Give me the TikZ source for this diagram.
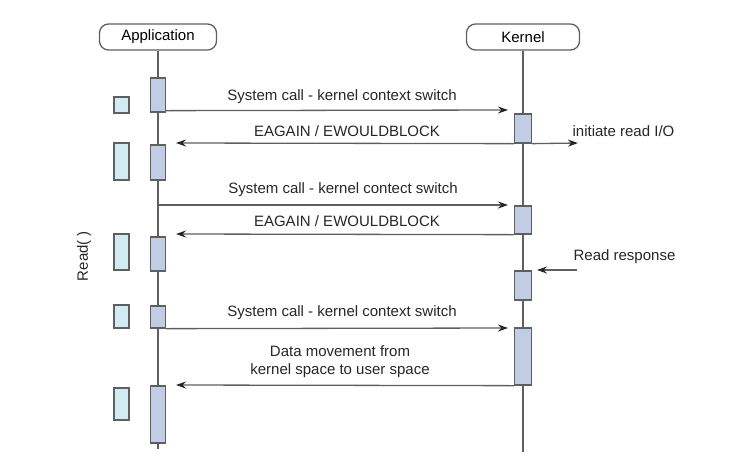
\documentclass[tikz,border=0pt]{standalone}
\usepackage{fontspec}
\setmainfont{Liberation Sans}
\usetikzlibrary{arrows.meta}
\definecolor{actfill}{RGB}{193,205,229}
\definecolor{buffill}{RGB}{208,236,242}
\definecolor{linegray}{RGB}{95,95,95}

\begin{document}
\begin{tikzpicture}[x=1pt,y=-1pt,line width=1.3pt,
actor/.style={draw=linegray,rounded corners=9pt,minimum width=117pt,minimum height=26pt,inner sep=0pt,font=\fontsize{15}{18}\selectfont},
act/.style={draw=linegray,fill=actfill,minimum width=15pt,inner sep=0pt},
kact/.style={act,minimum width=17pt},
buf/.style={draw=linegray,fill=buffill,minimum width=15pt,inner sep=0pt},
msg/.style={draw=linegray,-{Stealth[length=10pt,width=7pt,color=black!85]}},
lbl/.style={font=\fontsize{15}{18}\selectfont,text=black!85,inner sep=0pt}
]
\useasboundingbox (0,0) rectangle (742,467);

% actors and lifelines
\node[actor] (app) at (158,37) {Application};
\node[actor,minimum width=113pt] (kern) at (523,37) {Kernel};
\coordinate (append) at (158,449);
\coordinate (kernend) at (523,452);
\draw[linegray] (app) -- (append);
\draw[linegray] (kern) -- (kernend);

% application activations
\node[act,minimum height=34pt] (a1) at (158,95) {};
\node[act,minimum height=35pt] (a2) at (158,162.5) {};
\node[act,minimum height=34pt] (a3) at (158,254) {};
\node[act,minimum height=22pt] (a4) at (158,317) {};
\node[act,minimum height=57pt] (a5) at (158,414.5) {};

% user buffers
\node[buf,minimum height=16pt] (b1) at (121.5,105) {};
\node[buf,minimum height=37pt] (b2) at (121.5,161.5) {};
\node[buf,minimum height=36pt] (b3) at (121.5,252) {};
\node[buf,minimum height=23pt] (b4) at (121.5,316.5) {};
\node[buf,minimum height=32pt] (b5) at (121.5,404) {};

% kernel activations
\node[kact,minimum height=29pt] (k1) at (523,128.5) {};
\node[kact,minimum height=28pt] (k2) at (523,220) {};
\node[kact,minimum height=29pt] (k3) at (523,285.5) {};
\node[kact,minimum height=57pt] (k4) at (523,356.5) {};

% free ends
\coordinate (s1) at (508,110);
\coordinate (r1) at (176,143);
\coordinate (io) at (578,143);
\coordinate (s2from) at (158,205);
\coordinate (s2) at (508,205);
\coordinate (r2) at (176,234);
\coordinate (rrfrom) at (577,270);
\coordinate (rr) at (537,270);
\coordinate (s3) at (508,328);
\coordinate (r3) at (176,385);

% messages
\draw[msg] ([yshift=2pt]a1.south east) -- (s1);
\draw[msg] (k1.south west) -- (r1);
\draw[msg] (k1.south east) -- (io);
\draw[msg] (s2from) -- (s2);
\draw[msg] (k2.south west) -- (r2);
\draw[msg] (rrfrom) -- (rr);
\draw[msg] (a4.south east) -- (s3);
\draw[msg] (k4.south west) -- (r3);

% labels
\node[lbl] (l1) at (342,97) {System call - kernel context switch};
\node[lbl] (l2) at (347,131) {EAGAIN / EWOULDBLOCK};
\node[lbl,anchor=west] (l3) at (572,131) {initiate read I/O};
\node[lbl] (l4) at (343,190) {System call - kernel contect switch};
\node[lbl] (l5) at (347,221) {EAGAIN / EWOULDBLOCK};
\node[lbl,anchor=west] (l6) at (573,257) {Read response};
\node[lbl] (l7) at (342,313) {System call - kernel context switch};
\node[lbl,align=center] (l8) at (340,362) {Data movement from\\kernel space to user space};
\node[lbl,rotate=90] (l9) at (84,256) {Read( )};
\end{tikzpicture}
\end{document}
